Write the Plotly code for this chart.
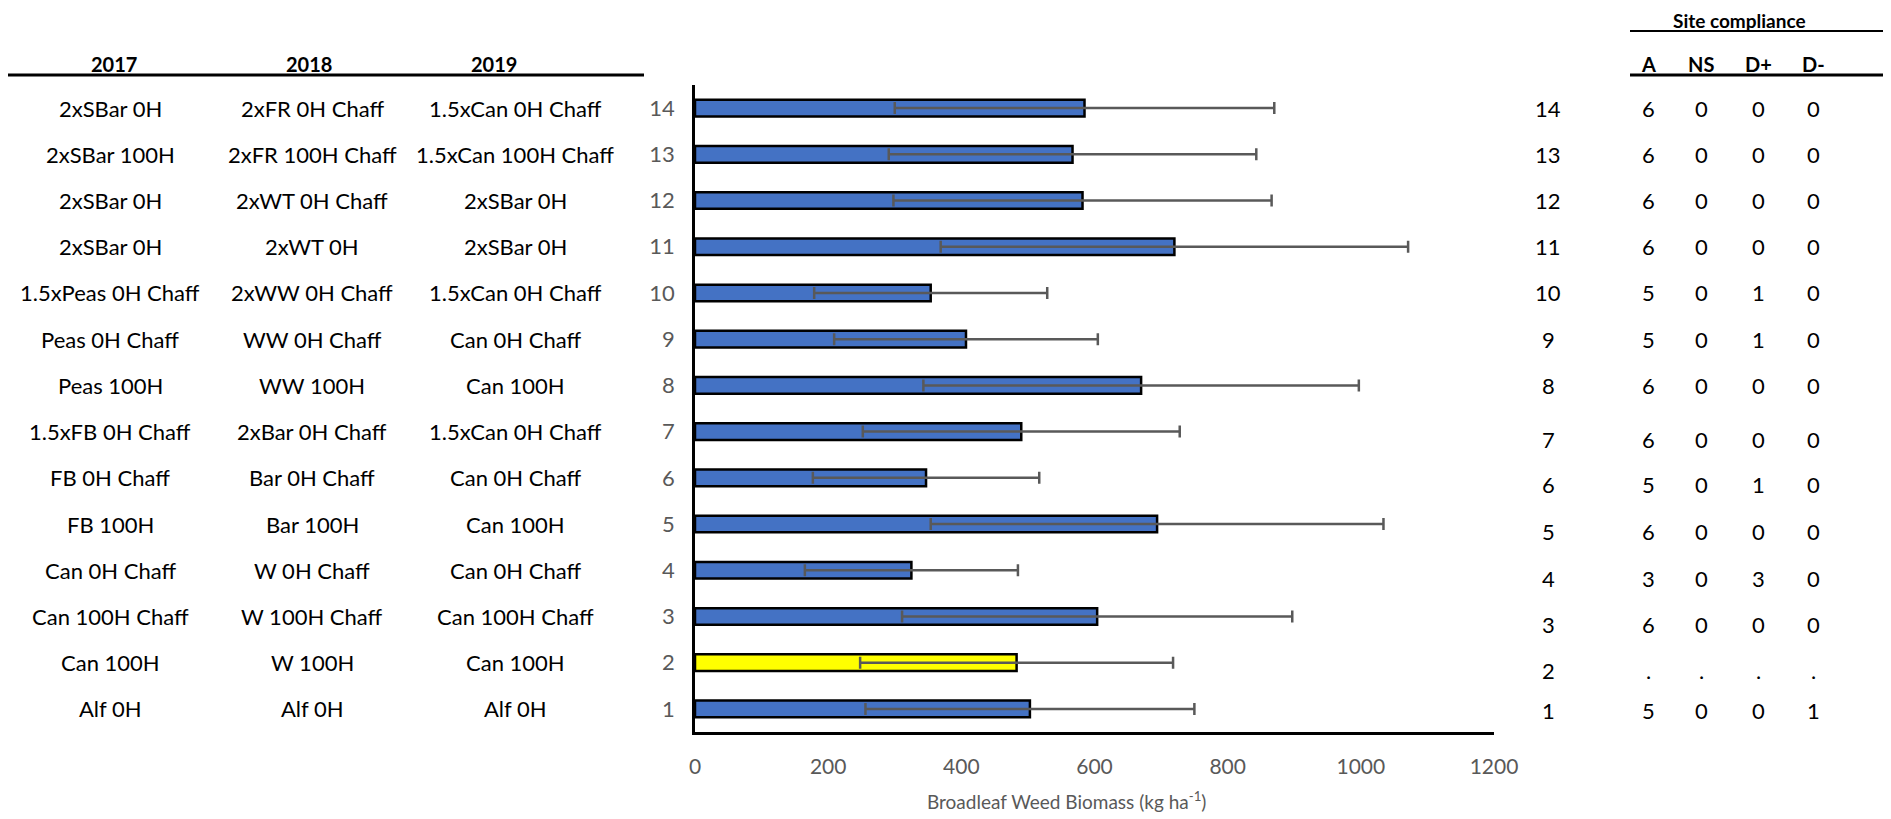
import plotly.graph_objects as go

# ---------------- data ----------------
rows = [1, 2, 3, 4, 5, 6, 7, 8, 9, 10, 11, 12, 13, 14]
biomass = [503, 483, 604, 325, 694, 347, 490, 670, 407, 354, 720, 582, 567, 585]
biomass_err = [247, 235, 293, 160, 340, 170, 238, 327, 198, 175, 351, 284, 276, 285]
highlight_row = 2

trt_2017 = ["Alf 0H", "Can 100H", "Can 100H Chaff", "Can 0H Chaff", "FB 100H", "FB 0H Chaff",
            "1.5xFB 0H Chaff", "Peas 100H", "Peas 0H Chaff", "1.5xPeas 0H Chaff", "2xSBar 0H",
            "2xSBar 0H", "2xSBar 100H", "2xSBar 0H"]
trt_2018 = ["Alf 0H", "W 100H", "W 100H Chaff", "W 0H Chaff", "Bar 100H", "Bar 0H Chaff",
            "2xBar 0H Chaff", "WW 100H", "WW 0H Chaff", "2xWW 0H Chaff", "2xWT 0H",
            "2xWT 0H Chaff", "2xFR 100H Chaff", "2xFR 0H Chaff"]
trt_2019 = ["Alf 0H", "Can 100H", "Can 100H Chaff", "Can 0H Chaff", "Can 100H", "Can 0H Chaff",
            "1.5xCan 0H Chaff", "Can 100H", "Can 0H Chaff", "1.5xCan 0H Chaff", "2xSBar 0H",
            "2xSBar 0H", "1.5xCan 100H Chaff", "1.5xCan 0H Chaff"]
year_headers = ["2017", "2018", "2019"]

comp_headers = ["A", "NS", "D+", "D-"]
comp_A = ["5", ".", "6", "3", "6", "5", "6", "6", "5", "5", "6", "6", "6", "6"]
comp_NS = ["0", ".", "0", "0", "0", "0", "0", "0", "0", "0", "0", "0", "0", "0"]
comp_Dp = ["0", ".", "0", "3", "0", "1", "0", "0", "1", "1", "0", "0", "0", "0"]
comp_Dm = ["1", ".", "0", "0", "0", "0", "0", "0", "0", "0", "0", "0", "0", "0"]

x_ticks = [0, 200, 400, 600, 800, 1000, 1200]
x_title = "Broadleaf Weed Biomass (kg ha<sup>-1</sup>)"

# ---------------- layout geometry (pixels) ----------------
W, H = 1891, 819
PL, PR = 687, 1486      # plot area left/right
PT, PB = 77, 724        # plot area top/bottom


def px(xp):
    return (xp - PL) / (PR - PL)


def py(yp):
    return (PB - yp) / (PB - PT)


FONT = "Lato"
BLUE = "#4472C4"
YELLOW = "#FFFF00"
GREY = "#595959"
TXT = 22

colors = [YELLOW if r == highlight_row else BLUE for r in rows]

fig = go.Figure()
fig.add_trace(go.Bar(
    x=biomass, y=rows, orientation="h",
    width=0.36,
    marker=dict(color=colors, line=dict(color="black", width=2.5)),
    error_x=dict(type="data", array=biomass_err, visible=True,
                 color=GREY, thickness=2.5, width=6),
    showlegend=False,
))

annotations = []
# left table
col_x = [102, 304, 507]
head_x = [106, 301, 486]
for cx, hx, head, texts in zip(col_x, head_x, year_headers, [trt_2017, trt_2018, trt_2019]):
    annotations.append(dict(x=px(hx), y=py(56), xref="paper", yref="paper", text="<b>%s</b>" % head,
                            showarrow=False, font=dict(family=FONT, size=20, color="black"),
                            xanchor="center", yanchor="middle"))
    for r, t in zip(rows, texts):
        annotations.append(dict(x=px(cx), y=r, xref="paper", yref="y", text=t, showarrow=False,
                                font=dict(family=FONT, size=TXT, color="black"),
                                xanchor="center", yanchor="middle"))

# right table
row_shift = {1: -2, 2: -8, 3: -8, 4: -8, 5: -7, 6: -7, 7: -8}
annotations.append(dict(x=px(1731), y=py(12), xref="paper", yref="paper", text="<b>Site compliance</b>",
                        showarrow=False, font=dict(family=FONT, size=19, color="black"),
                        xanchor="center", yanchor="middle"))
comp_x = [1640, 1693, 1750, 1805]
for cx, head, vals in zip(comp_x, comp_headers, [comp_A, comp_NS, comp_Dp, comp_Dm]):
    annotations.append(dict(x=px(cx), y=py(56), xref="paper", yref="paper", text="<b>%s</b>" % head,
                            showarrow=False, font=dict(family=FONT, size=20, color="black"),
                            xanchor="center", yanchor="middle"))
    for r, v in zip(rows, vals):
        annotations.append(dict(x=px(cx), y=r, xref="paper", yref="y", text=v, showarrow=False,
                                yshift=row_shift.get(r, 0),
                                font=dict(family=FONT, size=TXT, color="black"),
                                xanchor="center", yanchor="middle"))
for r in rows:
    annotations.append(dict(x=px(1540), y=r, xref="paper", yref="y", text=str(r), showarrow=False,
                            yshift=row_shift.get(r, 0),
                            font=dict(family=FONT, size=TXT, color="black"),
                            xanchor="center", yanchor="middle"))

# x-axis title
annotations.append(dict(x=px((PL + PR) / 2 - 28), y=py(792), xref="paper", yref="paper", text=x_title,
                        showarrow=False, font=dict(family=FONT, size=19, color=GREY),
                        xanchor="center", yanchor="middle"))

shapes = [
    dict(type="line", xref="paper", yref="paper", x0=px(0), x1=px(636), y0=py(67), y1=py(67),
         line=dict(color="black", width=3)),
    dict(type="line", xref="paper", yref="paper", x0=px(1622), x1=px(1888), y0=py(67), y1=py(67),
         line=dict(color="black", width=3)),
    dict(type="line", xref="paper", yref="paper", x0=px(1622), x1=px(1888), y0=py(23), y1=py(23),
         line=dict(color="black", width=2)),
]

fig.update_layout(
    width=W, height=H,
    margin=dict(l=PL, r=W - PR, t=PT, b=H - PB, pad=0),
    paper_bgcolor="white", plot_bgcolor="white",
    font=dict(family=FONT, size=TXT, color=GREY),
    annotations=annotations, shapes=shapes,
)
fig.update_xaxes(range=[0, 1200], tickvals=x_ticks, showgrid=False, zeroline=False,
                 showline=True, linecolor="black", linewidth=2.5, ticks="",
                 ticklabelstandoff=14,
                 tickfont=dict(family=FONT, size=21, color=GREY))
fig.update_yaxes(range=[0.5, 14.5], tickvals=rows, ticktext=[str(r) for r in rows],
                 showgrid=False, zeroline=False, showline=True, linecolor="black", linewidth=2.5,
                 ticks="", ticklabelstandoff=13,
                 tickfont=dict(family=FONT, size=TXT, color=GREY))

fig.write_html("out.html")
